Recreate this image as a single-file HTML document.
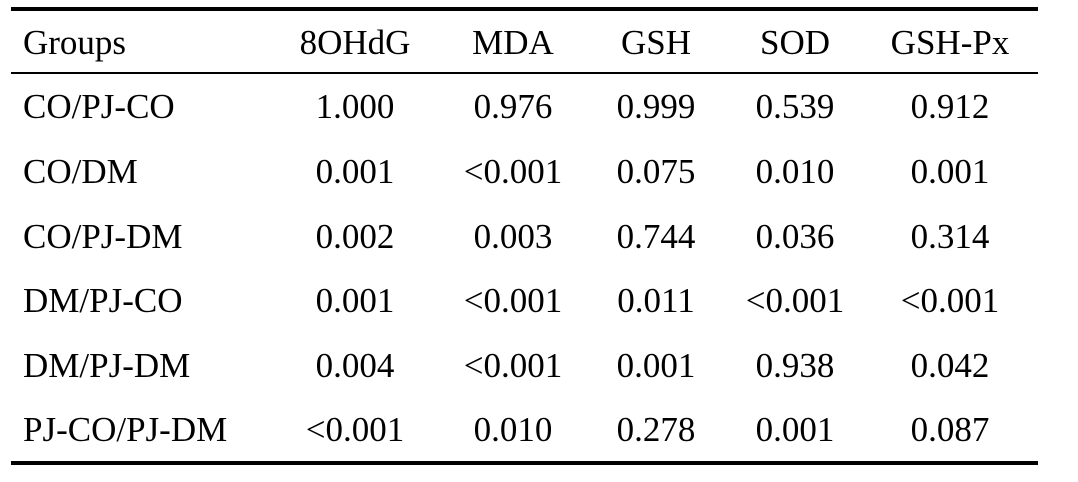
<!DOCTYPE html>
<html><head><meta charset="utf-8"><style>
body{margin:0;width:1078px;height:482px;background:#fff;position:relative;overflow:hidden;font-family:"Liberation Serif","Times New Roman",serif;color:#000}
.r{position:absolute;left:11px;width:1027px;background:#000}
.t{position:absolute;font-size:35px;line-height:40px;white-space:nowrap}
.c{transform:translateX(-50%)}
</style></head><body>
<div class="r" style="top:7px;height:4px"></div>
<div class="r" style="top:72px;height:2px"></div>
<div class="r" style="top:461px;height:4px"></div>
<div id="tbl"></div>
<script>
const headers=["Groups","8OHdG","MDA","GSH","SOD","GSH-Px"];
const groups=["CO/PJ-CO","CO/DM","CO/PJ-DM","DM/PJ-CO","DM/PJ-DM","PJ-CO/PJ-DM"];
const v8OHdG=["1.000","0.001","0.002","0.001","0.004","<0.001"];
const vMDA=["0.976","<0.001","0.003","<0.001","<0.001","0.010"];
const vGSH=["0.999","0.075","0.744","0.011","0.001","0.278"];
const vSOD=["0.539","0.010","0.036","<0.001","0.938","0.001"];
const vGSHPx=["0.912","0.001","0.314","<0.001","0.042","0.087"];
const cols=[null,v8OHdG,vMDA,vGSH,vSOD,vGSHPx];
const colX=[23,355,513,656,795,950];
const rowY=[44,108,173,238,302,367,431];
const tbl=document.getElementById('tbl');
function cell(txt,ci,ri,name){
  const d=document.createElement('div');
  d.className='t'+(ci>0?' c':'');
  d.style.left=colX[ci]+'px';d.style.top=(rowY[ri]-21)+'px';
  d.textContent=txt;
  
  
  tbl.appendChild(d);
}
headers.forEach((h,i)=>cell(h,i,0,'header-'+h.toLowerCase()));
groups.forEach((g,r)=>{
  cell(g,0,r+1,'group-label');
  for(let c=1;c<6;c++)cell(cols[c][r],c,r+1,'value-cell');
});
</script>
</body></html>
